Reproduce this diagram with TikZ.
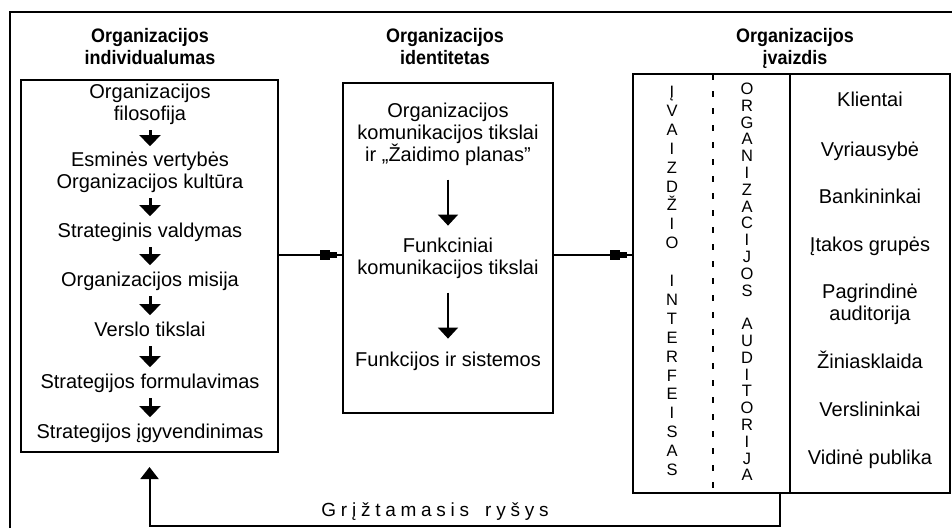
\documentclass[tikz,border=0pt]{standalone}
\usepackage{fontspec}
\setmainfont{Liberation Sans}
\newfontfamily\headfont[FakeStretch=0.92]{Liberation Sans}
\newfontfamily\spacedfont[LetterSpace=25]{Liberation Sans}
\usetikzlibrary{arrows.meta}

\begin{document}
\begin{tikzpicture}[x=1pt, y=-1pt,
  every node/.style={inner sep=0pt, outer sep=0pt},
  body/.style={font=\fontsize{20}{22}\selectfont, align=center, anchor=north,
    execute at begin node=\strut, execute at end node=\strut},
  heading/.style={font=\headfont\bfseries\fontsize{19.5}{22}\selectfont, align=center, anchor=north,
    execute at begin node=\strut, execute at end node=\strut},
  spelled/.style={font=\fontsize{16.5}{#1}\selectfont, align=center, anchor=north,
    execute at begin node=\strut},
  panel/.style={draw, line width=2pt, anchor=north west},
  frame/.style={line width=1.5pt},
  stepdown/.style={line width=3pt, -{Triangle[width=21pt,length=11pt]},
    shorten <=3.5pt, shorten >=5.5pt},
  longdown/.style={line width=1.5pt, -{Triangle[width=20pt,length=11pt]},
    shorten <=12pt, shorten >=12pt},
  link/.style={line width=2pt},
  linkhead/.style={line width=2pt, -{Square[length=10pt,width=10pt]Square[length=7pt,width=6pt]},
    shorten >=6pt},
  feedback/.style={line width=2pt, -{Triangle[width=18pt,length=12pt]}, shorten >=15pt},
  divider/.style={line width=2pt},
  dashdiv/.style={line width=2pt, dash pattern=on 6pt off 11pt},
]
\useasboundingbox (0,0) rectangle (952,528);

% outer frame
\draw[frame] (10,528) -- (10,12) -- (952,12);

% column headings
\node[heading] (h1) at (150,28.6) {Organizacijos\\individualumas};
\node[heading] (h2) at (445,28.6) {Organizacijos\\identitetas};
\node[heading] (h3) at (795,28.6) {Organizacijos\\įvaizdis};

% panels
\node[panel, minimum width=257, minimum height=372] (lbox) at (21,80) {};
\node[panel, minimum width=210, minimum height=330] (mbox) at (343,83) {};
\node[panel, minimum width=317, minimum height=419] (rbox) at (633,74) {};

% left panel: chain of steps
\node[body] (l1) at (150,83.6) {Organizacijos\\filosofija};
\node[body] (l2) at (150,151.6) {Esminės vertybės\\Organizacijos kultūra};
\node[body] (l3) at (150,221.6) {Strateginis valdymas};
\node[body] (l4) at (150,270.6) {Organizacijos misija};
\node[body] (l5) at (150,320.6) {Verslo tikslai};
\node[body] (l6) at (150,372.6) {Strategijos formulavimas};
\node[body] (l7) at (150,422.6) {Strategijos įgyvendinimas};
\foreach \a/\b in {l1/l2,l2/l3,l3/l4,l4/l5,l5/l6,l6/l7}
  \draw[stepdown] (\a.south) -- (\b.north);

% middle panel
\node[body] (m1) at (448,102.6) {Organizacijos\\komunikacijos tikslai\\ir „Žaidimo planas"};
\node[body] (m2) at (448,237.6) {Funkciniai\\komunikacijos tikslai};
\node[body] (m3) at (448,350.6) {Funkcijos ir sistemos};
\draw[longdown] (m1.south) -- (m2.north);
\draw[longdown] (m2.south) -- (m3.north);

% right panel: interface columns and audiences
\coordinate (dsh) at (713,0);
\coordinate (dv) at (790,0);
\draw[dashdiv] (rbox.north -| dsh) -- (rbox.south -| dsh);
\draw[divider] (rbox.north -| dv) -- (rbox.south -| dv);
\node[spelled=18.9] (iface) at (672,86.2)
  {Į\\V\\A\\I\\Z\\D\\Ž\\I\\O\\\mbox{}\\I\\N\\T\\E\\R\\F\\E\\I\\S\\A\\S};
\node[spelled=16.8] (aud) at (747,83.0)
  {O\\R\\G\\A\\N\\I\\Z\\A\\C\\I\\J\\O\\S\\\mbox{}\\A\\U\\D\\I\\T\\O\\R\\I\\J\\A};

\node[body] (r1) at (870,90.6) {Klientai};
\node[body] (r2) at (870,140.6) {Vyriausybė};
\node[body] (r3) at (870,187.6) {Bankininkai};
\node[body] (r4) at (870,235.6) {Įtakos grupės};
\node[body] (r5) at (870,283.6) {Pagrindinė\\auditorija};
\node[body] (r6) at (870,350.6) {Žiniasklaida};
\node[body] (r7) at (870,400.6) {Verslininkai};
\node[body] (r8) at (870,448.6) {Vidinė publika};

% links between panels
\coordinate (mid) at (0,255);
\draw[link] (lbox.east |- mid) -- (mbox.west |- mid);
\draw[linkhead] (lbox.east |- mid) -- (mbox.west |- mid);
\draw[link] (mbox.east |- mid) -- (rbox.west |- mid);
\draw[linkhead] (mbox.east |- mid) -- (rbox.west |- mid);

% feedback loop
\coordinate (fbx) at (780,0);
\draw[feedback] (rbox.south -| fbx) -- ++(0,33) -| (lbox.south);
\node[font=\spacedfont\fontsize{19}{22}\selectfont, anchor=base] (fbtext) at (435,516)
  {Grįžtamasis\hspace{6pt} ryšys};
\end{tikzpicture}
\end{document}
